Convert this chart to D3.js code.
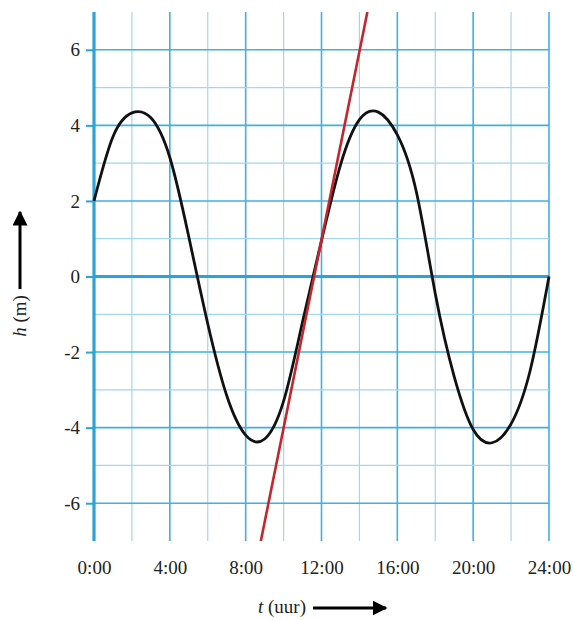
<!DOCTYPE html>
<html>
<head>
<meta charset="utf-8">
<script src="https://cdn.jsdelivr.net/npm/d3@7"></script>
<style>
  body { margin: 0; background: #fff; }
  text { font-family: "Liberation Serif", serif; fill: #222; }
</style>
</head>
<body>
<svg width="573" height="620"></svg>
<script>
// hours and water height
var hours = [0,1,2,3,4,5,6,7,8,9,10,11,12,13,14,15,16,17,18,19,20,21,22,23,24];
var heights = [2.0,3.7,4.33,4.2,3.15,1.05,-1.25,-3.15,-4.2,-4.3,-3.3,-1.2,0.95,2.95,4.15,4.35,3.75,2.25,-0.45,-2.65,-4.05,-4.4,-3.9,-2.5,0.0];

// red line, from bottom edge to top edge
var lineT = [8.8, 14.42];
var lineH = [-7, 7];

var xTicks = [0,4,8,12,16,20,24];
var xLabels = ["0:00","4:00","8:00","12:00","16:00","20:00","24:00"];
var yTicks = [-6,-4,-2,0,2,4,6];

var margin = {top: 12, right: 24, bottom: 79, left: 94};
var width = 573 - margin.left - margin.right;
var height = 620 - margin.top - margin.bottom;

var svg = d3.select("svg");
var g = svg.append("g")
  .attr("transform", "translate(" + margin.left + "," + margin.top + ")");

var xScale = d3.scaleLinear().domain([0,24]).range([0,width]);
var yScale = d3.scaleLinear().domain([-7,7]).range([height,0]);

// grid
var vLines = d3.range(0, 25, 2);
var hLines = d3.range(-6, 7, 1);

g.selectAll(".vgrid")
  .data(vLines)
  .enter()
  .append("line")
  .attr("x1", function(d) { return xScale(d); })
  .attr("x2", function(d) { return xScale(d); })
  .attr("y1", 0)
  .attr("y2", height)
  .attr("stroke", function(d) { return d % 4 == 0 ? "#40b0df" : "#a3d7ee"; })
  .attr("stroke-width", function(d) { return d % 4 == 0 ? 1.6 : 1.2; });

g.selectAll(".hgrid")
  .data(hLines)
  .enter()
  .append("line")
  .attr("x1", 0)
  .attr("x2", width)
  .attr("y1", function(d) { return yScale(d); })
  .attr("y2", function(d) { return yScale(d); })
  .attr("stroke", function(d) { return d % 2 == 0 ? "#40b0df" : "#a3d7ee"; })
  .attr("stroke-width", function(d) { return d % 2 == 0 ? 1.6 : 1.2; });

// thick axes
g.append("line")
  .attr("x1", 0).attr("x2", 0)
  .attr("y1", 0).attr("y2", height)
  .attr("stroke", "#27a5db")
  .attr("stroke-width", 3.2);

g.append("line")
  .attr("x1", 0).attr("x2", width)
  .attr("y1", yScale(0)).attr("y2", yScale(0))
  .attr("stroke", "#27a5db")
  .attr("stroke-width", 3.2);

// y axis ticks + labels
var yAxis = d3.axisLeft(yScale)
  .tickValues(yTicks)
  .tickSize(8)
  .tickPadding(6)
  .tickFormat(function(d) { return d; });

var yG = g.append("g").call(yAxis);
yG.select(".domain").remove();
yG.selectAll(".tick line").attr("stroke", "#27a5db").attr("stroke-width", 2);
yG.selectAll(".tick text")
  .attr("font-size", 19)
  .attr("font-family", "Liberation Serif, serif")
  .attr("fill", "#222");

// x labels
var xAxis = d3.axisBottom(xScale)
  .tickValues(xTicks)
  .tickSize(0)
  .tickPadding(20)
  .tickFormat(function(d, i) { return xLabels[i]; });

var xG = g.append("g")
  .attr("transform", "translate(0," + height + ")")
  .call(xAxis);
xG.select(".domain").remove();
xG.selectAll(".tick text")
  .attr("font-size", 19)
  .attr("font-family", "Liberation Serif, serif")
  .attr("fill", "#222");

// curves
var clip = svg.append("clipPath").attr("id", "plotclip")
  .append("rect").attr("width", width).attr("height", height);

var pts = hours.map(function(d, i) { return [d, heights[i]]; });

var line = d3.line()
  .x(function(d) { return xScale(d[0]); })
  .y(function(d) { return yScale(d[1]); })
  .curve(d3.curveNatural);

g.append("path")
  .datum(pts)
  .attr("d", line)
  .attr("fill", "none")
  .attr("stroke", "#111")
  .attr("stroke-width", 2.8);

g.append("path")
  .datum(lineT.map(function(d, i) { return [d, lineH[i]]; }))
  .attr("d", d3.line()
    .x(function(d) { return xScale(d[0]); })
    .y(function(d) { return yScale(d[1]); }))
  .attr("clip-path", "url(#plotclip)")
  .attr("stroke", "#c1272d")
  .attr("stroke-width", 2.6)
  .attr("fill", "none");

// axis titles with arrows
svg.append("defs").append("marker")
  .attr("id", "arrow")
  .attr("viewBox", "0 0 10 10")
  .attr("refX", 9).attr("refY", 5)
  .attr("markerWidth", 5).attr("markerHeight", 5)
  .attr("markerUnits", "strokeWidth")
  .attr("orient", "auto")
  .append("path")
  .attr("d", "M0,0 L10,5 L0,10 z")
  .attr("fill", "#000");

var xt = svg.append("text")
  .attr("x", 282)
  .attr("y", 613)
  .attr("text-anchor", "middle")
  .attr("font-size", 19);
xt.append("tspan").attr("font-style", "italic").text("t");
xt.append("tspan").text(" (uur)");

svg.append("line")
  .attr("x1", 313).attr("x2", 386)
  .attr("y1", 608).attr("y2", 608)
  .attr("stroke", "#000")
  .attr("stroke-width", 3)
  .attr("marker-end", "url(#arrow)");

var yt = svg.append("text")
  .attr("transform", "translate(26,316) rotate(-90)")
  .attr("text-anchor", "middle")
  .attr("font-size", 19);
yt.append("tspan").attr("font-style", "italic").text("h");
yt.append("tspan").text(" (m)");

svg.append("line")
  .attr("x1", 20).attr("x2", 20)
  .attr("y1", 289).attr("y2", 212)
  .attr("stroke", "#000")
  .attr("stroke-width", 3)
  .attr("marker-end", "url(#arrow)");
</script>
</body>
</html>
